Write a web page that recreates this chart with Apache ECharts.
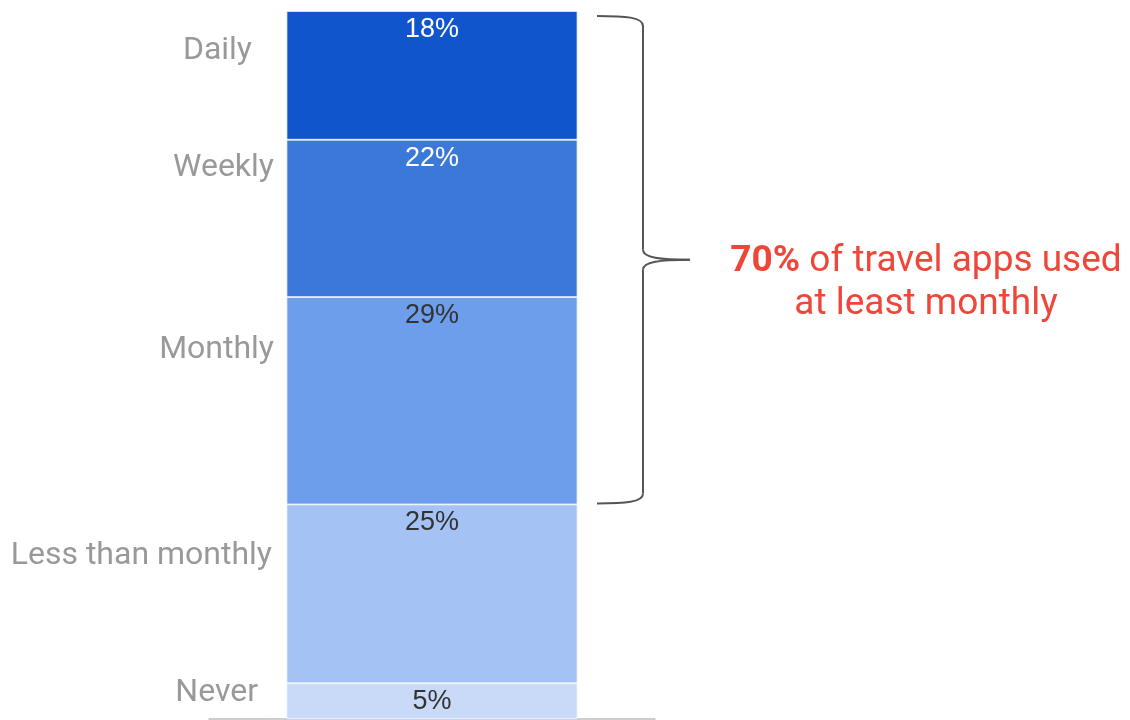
<!DOCTYPE html>
<html>
<head>
<meta charset="utf-8">
<script src="https://cdn.jsdelivr.net/npm/echarts@6/dist/echarts.min.js"></script>
<style>
  html, body { margin: 0; background: #fff; }
  #main { width: 1130px; height: 720px; }
</style>
</head>
<body>
<div id="main"></div>
<script>
const categories = ['Daily', 'Weekly', 'Monthly', 'Less than monthly', 'Never']
const shares = [18, 22, 29, 25, 5]
const colors = ['#1155cc', '#3c78d8', '#6d9eeb', '#a4c2f4', '#c9daf8']
const labelColors = ['#ffffff', '#ffffff', '#333333', '#333333', '#333333']
// category names sit to the left of the bar, offset down from each segment top
const nameOffsets = [40, 28, 53, 52, 10]
const nameRight = [252, 274, 274, 272, 258]
const bracketCount = 3 // Daily + Weekly + Monthly
const noteBold = '70%'
const noteRest = ' of travel apps used\nat least monthly'

const chart = echarts.init(document.getElementById('main'))

const series = categories.map((name, i) => ({
  name: name,
  type: 'bar',
  stack: 'total',
  barWidth: 291,
  data: [shares[i]],
  itemStyle: { color: colors[i], borderColor: '#f4f7fd', borderWidth: 0.8 },
  label: {
    show: true,
    position: 'insideTop',
    distance: 5,
    formatter: '{c}%',
    color: labelColors[i],
    fontFamily: 'Liberation Sans',
    fontSize: 27
  },
  emphasis: { disabled: true }
}))

chart.setOption({
  animation: false,
  grid: { left: 209, right: 475, top: 11, bottom: 1 },
  xAxis: {
    type: 'category',
    data: [''],
    axisLine: { onZero: false, lineStyle: { color: '#bdbdbd', width: 1.5 } },
    axisTick: { show: false },
    axisLabel: { show: false }
  },
  yAxis: {
    type: 'value',
    inverse: true,
    min: 0,
    max: shares.reduce((a, b) => a + b, 0),
    show: false
  },
  series: series
})

// positions of the segment edges, from the axis itself
const edges = [0]
shares.forEach((v, i) => edges.push(edges[i] + v))
const py = v => chart.convertToPixel({ yAxisIndex: 0 }, v)

const graphics = categories.map((name, i) => ({
  type: 'text',
  x: nameRight[i],
  y: py(edges[i]) + nameOffsets[i],
  style: {
    text: name,
    fill: '#999999',
    fontFamily: 'Roboto',
    fontSize: 32,
    align: 'right',
    verticalAlign: 'middle'
  }
}))

// curly bracket around the first three segments
const yTop = py(0) + 5
const yBot = py(edges[bracketCount]) - 1
const tip = (yTop + yBot) / 2
const bx = 643
const bracketStyle = { fill: 'none', stroke: '#555555', lineWidth: 2 }
const curve = (x1, y1, cx1, cy1, cx2, cy2, x2, y2) => ({
  type: 'bezierCurve',
  shape: { x1, y1, cpx1: cx1, cpy1: cy1, cpx2: cx2, cpy2: cy2, x2, y2 },
  style: bracketStyle
})
const line = (x1, y1, x2, y2) => ({
  type: 'line',
  shape: { x1, y1, x2, y2 },
  style: bracketStyle
})
graphics.push(
  curve(597, yTop, 625, yTop, bx, yTop + 1, bx, yTop + 10),
  line(bx, yTop + 10, bx, tip - 10),
  curve(bx, tip - 10, bx, tip - 2, 660, tip, 690, tip),
  curve(690, tip, 660, tip, bx, tip + 2, bx, tip + 10),
  line(bx, tip + 10, bx, yBot - 10),
  curve(bx, yBot - 10, bx, yBot - 1, 625, yBot, 597, yBot)
)

graphics.push({
  type: 'text',
  x: 926,
  y: 283,
  style: {
    text: '{b|' + noteBold + '}' + noteRest,
    fill: '#f0463a',
    fontFamily: 'Roboto',
    fontSize: 37,
    lineHeight: 43,
    align: 'center',
    verticalAlign: 'middle',
    rich: {
      b: { fontWeight: 'bold', fontFamily: 'Roboto', fontSize: 37, fill: '#f0463a', lineHeight: 43 }
    }
  }
})

chart.setOption({ graphic: graphics })
</script>
</body>
</html>
